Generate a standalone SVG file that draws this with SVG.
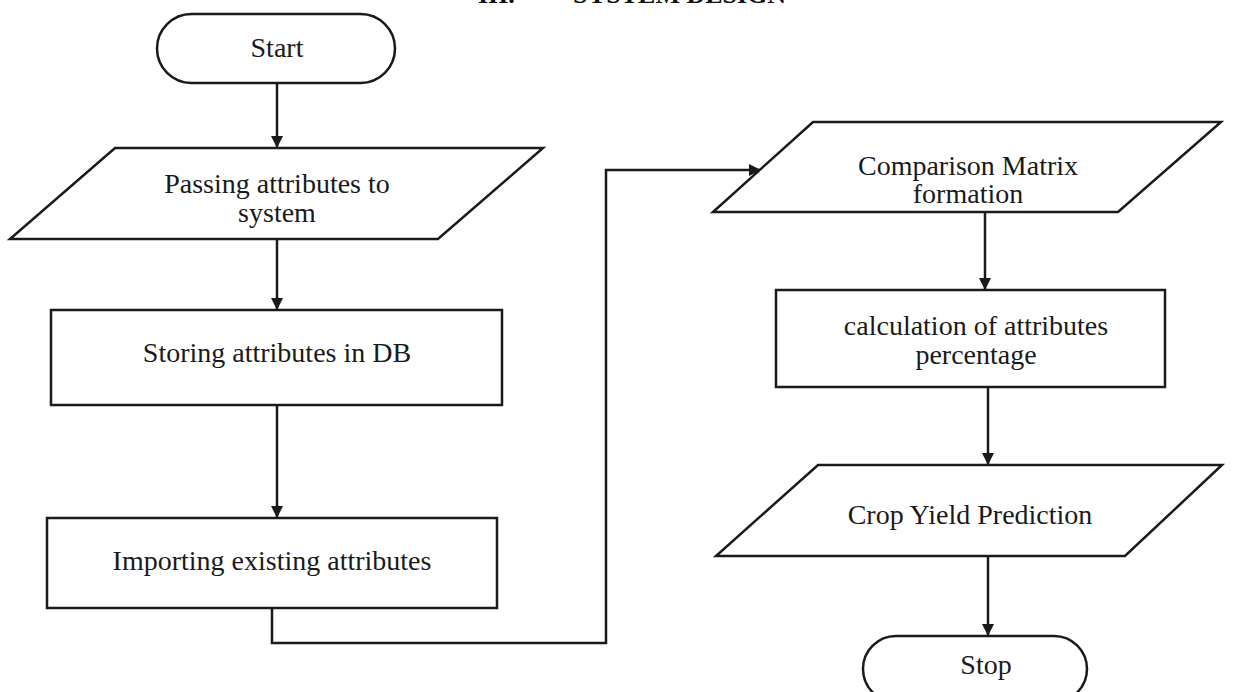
<svg xmlns="http://www.w3.org/2000/svg" width="1245" height="692" viewBox="0 0 1245 692">
<style>
.s{fill:#fff;stroke:#1a1a1a;stroke-width:2.5}
.c{fill:none;stroke:#1a1a1a;stroke-width:2.5}
.t{font-family:"Liberation Serif","Times New Roman",serif;font-size:28px;fill:#1a1a1a;text-anchor:middle}
.h{font-family:"Liberation Serif","Times New Roman",serif;font-size:26px;font-weight:bold;fill:#111}
</style>
<defs>
<marker id="arr" markerUnits="userSpaceOnUse" viewBox="0 0 12 12" refX="12" refY="6" markerWidth="12" markerHeight="12" orient="auto">
<path d="M0,0 L12,6 L0,12 z" fill="#1a1a1a"/>
</marker>
</defs>
<g id="title">
<text class="h" x="478" y="3">III.</text>
<text class="h" x="573" y="3">SYSTEM DESIGN</text>
</g>
<g id="connectors">
<line class="c" x1="277" y1="83" x2="277" y2="148" marker-end="url(#arr)"/>
<line class="c" x1="277" y1="239" x2="277" y2="310" marker-end="url(#arr)"/>
<line class="c" x1="277" y1="405" x2="277" y2="518" marker-end="url(#arr)"/>
<polyline class="c" points="272,608 272,643 606,643 606,170 761,170" marker-end="url(#arr)"/>
<line class="c" x1="985" y1="212" x2="985" y2="290" marker-end="url(#arr)"/>
<line class="c" x1="988" y1="387" x2="988" y2="465" marker-end="url(#arr)"/>
<line class="c" x1="988" y1="556" x2="988" y2="636" marker-end="url(#arr)"/>
</g>
<g id="start">
<rect class="s" x="157" y="14" width="238" height="69" rx="34.5" ry="34.5"/>
<text class="t" x="277" y="57">Start</text>
</g>
<g id="passing">
<polygon class="s" points="115,148 543,148 438,239 10,239"/>
<text class="t" x="277" y="193">Passing attributes to</text>
<text class="t" x="277" y="222">system</text>
</g>
<g id="storing">
<rect class="s" x="51" y="310" width="451" height="95"/>
<text class="t" x="277" y="362">Storing attributes in DB</text>
</g>
<g id="importing">
<rect class="s" x="47" y="518" width="450" height="90"/>
<text class="t" x="272" y="570">Importing existing attributes</text>
</g>
<g id="comparison">
<polygon class="s" points="813,122 1221,122 1118,212 713,212"/>
<text class="t" x="968" y="175">Comparison Matrix</text>
<text class="t" x="968" y="203">formation</text>
</g>
<g id="calculation">
<rect class="s" x="776" y="290" width="389" height="97"/>
<text class="t" x="976" y="335">calculation of attributes</text>
<text class="t" x="976" y="364">percentage</text>
</g>
<g id="crop">
<polygon class="s" points="818,465 1222,465 1125,556 716,556"/>
<text class="t" x="970" y="524">Crop Yield Prediction</text>
</g>
<g id="stop">
<rect class="s" x="863" y="636" width="224" height="66" rx="33" ry="33"/>
<text class="t" x="986" y="674">Stop</text>
</g>
</svg>
